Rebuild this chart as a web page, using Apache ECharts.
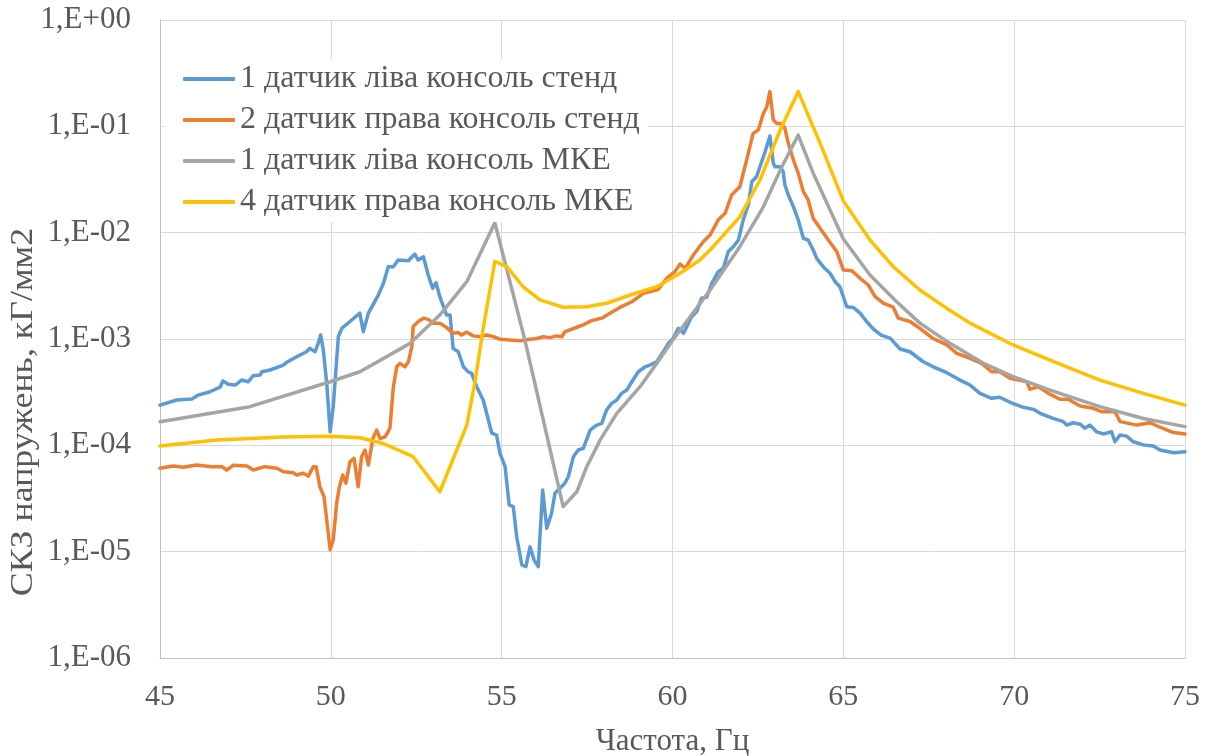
<!DOCTYPE html>
<html>
<head>
<meta charset="utf-8">
<title>СКЗ напружень</title>
<script src="https://cdn.jsdelivr.net/npm/echarts@6/dist/echarts.min.js"></script>
<style>
  html, body { margin: 0; padding: 0; background: #ffffff; }
  #chart { width: 1210px; height: 756px; }
</style>
</head>
<body>
<div id="chart"></div>
<script>
// Series names (legend)
const seriesNames = [
  '1 датчик ліва консоль стенд',
  '2 датчик права консоль стенд',
  '1 датчик ліва консоль МКЕ',
  '4 датчик права консоль МКЕ'
];

// Sensor 1, left cantilever, test bench: frequency (Hz) and RMS stress (kG/mm2)
const benchLeftFreq = [
  45.00,45.49,45.93,46.12,46.46,46.76,46.84,47.00,47.20,47.39,
  47.58,47.73,47.93,47.98,48.22,48.61,48.71,49.00,49.29,49.39,
  49.54,49.63,49.70,49.78,49.88,49.98,50.07,50.22,50.32,50.56,
  50.85,50.95,51.10,51.39,51.54,51.68,51.83,51.97,52.27,52.46,
  52.56,52.71,52.85,52.98,53.08,53.19,53.39,53.49,53.58,53.73,
  53.88,54.02,54.12,54.27,54.46,54.71,54.85,54.95,55.10,55.22,
  55.34,55.44,55.59,55.71,55.83,55.95,56.07,56.20,56.32,56.46,
  56.56,56.85,56.95,57.10,57.24,57.39,57.59,57.78,57.93,58.07,
  58.22,58.37,58.51,58.66,58.81,59.00,59.20,59.34,59.54,59.73,
  59.88,60.02,60.17,60.32,60.56,60.71,60.85,61.00,61.15,61.34,
  61.49,61.63,61.78,61.93,62.07,62.22,62.32,62.46,62.56,62.71,
  62.80,62.85,62.95,63.00,63.15,63.24,63.29,63.39,63.54,63.68,
  63.83,63.97,64.12,64.22,64.41,64.61,64.76,64.90,65.10,65.29,
  65.49,65.68,65.88,66.12,66.37,66.51,66.66,66.95,67.34,67.63,
  68.03,68.41,68.71,69.00,69.34,69.58,69.88,70.27,70.56,70.76,
  71.14,71.44,71.54,71.73,71.93,72.07,72.22,72.41,72.61,72.85,
  72.95,73.10,73.29,73.49,73.78,74.07,74.27,74.66,75.00
];
const benchLeftVals = [
  2.39e-4,2.67e-4,2.73e-4,2.97e-4,3.19e-4,3.52e-4,4.03e-4,3.75e-4,3.69e-4,4.11e-4,
  3.96e-4,4.52e-4,4.58e-4,4.92e-4,5.11e-4,5.69e-4,6.04e-4,6.81e-4,7.59e-4,8.17e-4,
  7.59e-4,9.1e-4,1.09e-3,7.87e-4,3.83e-4,1.34e-4,2.31e-4,1.05e-3,1.26e-3,1.46e-3,
  1.75e-3,1.17e-3,1.75e-3,2.59e-3,3.34e-3,4.79e-3,4.79e-3,5.53e-3,5.45e-3,6.30e-3,
  5.53e-3,5.94e-3,4.0e-3,3.0e-3,3.38e-3,2.5e-3,1.68e-3,1.68e-3,8.17e-4,7.59e-4,
  5.48e-4,4.92e-4,4.75e-4,3.56e-4,2.67e-4,1.30e-4,1.25e-4,8.41e-5,6.3e-5,2.75e-5,
  2.65e-5,1.38e-5,7.5e-6,7.23e-6,1.11e-5,8.34e-6,7.23e-6,3.8e-5,1.66e-5,2.3e-5,
  3.54e-5,4.4e-5,5.07e-5,7.82e-5,9.04e-5,9.38e-5,1.39e-4,1.55e-4,1.61e-4,2.15e-4,
  2.48e-4,2.67e-4,3.08e-4,3.31e-4,3.96e-4,4.92e-4,5.48e-4,5.69e-4,6.11e-4,7.59e-4,
  9.1e-4,1.01e-3,1.26e-3,1.13e-3,1.62e-3,1.81e-3,2.42e-3,2.47e-3,3.34e-3,4.3e-3,
  4.62e-3,6.62e-3,7.38e-3,8.53e-3,1.32e-2,1.82e-2,3.01e-2,3.36e-2,4.17e-2,5.77e-2,
  7.16e-2,8.11e-2,4.49e-2,4.17e-2,4.17e-2,3.74e-2,2.81e-2,2.26e-2,1.75e-2,1.32e-2,
  8.85e-3,8.53e-3,6.87e-3,5.74e-3,4.79e-3,4.15e-3,3.46e-3,3.1e-3,2.01e-3,1.98e-3,
  1.75e-3,1.46e-3,1.24e-3,1.08e-3,1.02e-3,9.1e-4,8.05e-4,7.59e-4,6.11e-4,5.48e-4,
  4.82e-4,4.11e-4,3.69e-4,3.08e-4,2.77e-4,2.83e-4,2.54e-4,2.28e-4,2.18e-4,2.0e-4,
  1.79e-4,1.67e-4,1.55e-4,1.63e-4,1.58e-4,1.45e-4,1.55e-4,1.34e-4,1.28e-4,1.34e-4,
  1.08e-4,1.25e-4,1.22e-4,1.08e-4,1.01e-4,9.86e-5,9.04e-5,8.53e-5,8.71e-5
];

// Sensor 2, right cantilever, test bench
const benchRightFreq = [
  45.00,45.39,45.68,46.07,46.51,46.81,46.95,47.15,47.54,47.73,
  48.07,48.42,48.61,48.90,49.00,49.19,49.34,49.49,49.57,49.68,
  49.80,49.88,49.98,50.07,50.17,50.25,50.35,50.44,50.56,50.68,
  50.80,50.90,51.00,51.10,51.23,51.34,51.44,51.59,51.73,51.83,
  51.93,52.02,52.17,52.27,52.37,52.41,52.56,52.71,52.85,53.00,
  53.19,53.39,53.58,53.73,53.83,53.98,54.17,54.37,54.56,54.76,
  54.95,55.24,55.54,55.83,56.03,56.22,56.41,56.61,56.76,56.85,
  57.00,57.20,57.39,57.63,57.93,58.17,58.46,58.81,59.15,59.58,
  59.83,60.07,60.22,60.37,60.61,60.90,61.10,61.34,61.54,61.73,
  61.97,62.17,62.36,62.51,62.66,62.76,62.85,62.95,63.05,63.20,
  63.29,63.39,63.54,63.68,63.83,63.97,64.12,64.32,64.56,64.81,
  65.00,65.25,65.49,65.73,65.93,66.17,66.46,66.61,66.95,67.24,
  67.63,68.03,68.32,68.71,69.05,69.34,69.58,69.88,70.37,70.46,
  70.71,71.00,71.34,71.58,71.93,72.32,72.56,72.95,73.10,73.59,
  73.98,74.27,74.66,75.00
];
const benchRightVals = [
  6.08e-5,6.4e-5,6.21e-5,6.53e-5,6.3e-5,6.3e-5,5.86e-5,6.49e-5,6.4e-5,5.86e-5,
  6.3e-5,6.08e-5,5.65e-5,5.52e-5,5.26e-5,5.46e-5,5.14e-5,6.3e-5,6.3e-5,4.08e-5,
  3.29e-5,1.99e-5,1.04e-5,1.29e-5,2.85e-5,4.08e-5,5.26e-5,4.4e-5,7.01e-5,7.55e-5,
  4.08e-5,7.82e-5,9.04e-5,6.53e-5,1.16e-4,1.39e-4,1.16e-4,1.2e-4,1.45e-4,3.56e-4,
  5.48e-4,5.9e-4,5.48e-4,6.11e-4,8.45e-4,1.31e-3,1.46e-3,1.57e-3,1.53e-3,1.41e-3,
  1.41e-3,1.28e-3,1.13e-3,1.15e-3,1.09e-3,1.16e-3,1.07e-3,1.05e-3,1.09e-3,1.05e-3,
  9.95e-4,9.77e-4,9.64e-4,9.93e-4,1.01e-3,1.05e-3,1.03e-3,1.07e-3,1.05e-3,1.17e-3,
  1.22e-3,1.29e-3,1.36e-3,1.49e-3,1.57e-3,1.75e-3,1.98e-3,2.24e-3,2.69e-3,2.92e-3,
  3.72e-3,4.3e-3,5.07e-3,4.62e-3,6.17e-3,8.22e-3,9.51e-3,1.32e-2,1.52e-2,2.26e-2,
  2.7e-2,4.82e-2,8.59e-2,9.24e-2,1.32e-1,1.53e-1,2.12e-1,1.15e-1,1.07e-1,1.05e-1,
  9.57e-2,6.92e-2,4.82e-2,3.61e-2,2.43e-2,2.03e-2,1.36e-2,1.1e-2,8.53e-3,6.62e-3,
  4.46e-3,4.39e-3,3.72e-3,3.22e-3,2.5e-3,2.17e-3,1.99e-3,1.57e-3,1.46e-3,1.26e-3,
  1.01e-3,8.79e-4,7.33e-4,6.58e-4,5.9e-4,4.92e-4,4.92e-4,4.27e-4,3.96e-4,3.37e-4,
  3.56e-4,3.08e-4,2.71e-4,2.71e-4,2.34e-4,2.23e-4,2.07e-4,2.07e-4,1.67e-4,1.55e-4,
  1.63e-4,1.48e-4,1.32e-4,1.28e-4
];

// Sensor 1, left cantilever, finite element model
const femLeftFreq = [
  45.00,47.63,49.98,50.85,52.32,53.19,53.98,54.80,55.68,56.80,
  57.20,57.49,57.88,58.37,59.05,59.54,60.01,61.10,61.97,62.66,
  63.20,63.68,64.12,65.00,65.78,66.56,67.24,68.12,69.10,69.97,
  71.05,72.51,73.78,75.00
];
const femLeftVals = [
  1.67e-4,2.31e-4,3.96e-4,4.92e-4,9.1e-4,1.68e-3,3.46e-3,1.24e-2,9.77e-4,2.65e-5,
  3.66e-5,6.3e-5,1.12e-4,2.0e-4,3.56e-4,5.9e-4,9.77e-4,2.89e-3,7.38e-3,1.75e-2,
  4.17e-2,8.28e-2,3.61e-2,8.71e-3,4.0e-3,2.24e-3,1.41e-3,9.1e-4,5.9e-4,4.42e-4,
  3.31e-4,2.31e-4,1.79e-4,1.50e-4
];

// Sensor 4, right cantilever, finite element model
const femRightFreq = [
  45.00,46.66,48.61,49.98,50.85,51.54,52.41,53.19,53.98,54.22,
  54.46,54.80,55.15,55.63,56.12,56.80,57.49,58.07,58.85,59.54,
  60.22,60.80,61.19,61.97,62.56,63.15,63.68,64.32,65.00,65.78,
  66.46,67.24,68.02,68.71,69.97,71.05,72.51,73.78,75.00
];
const femRightVals = [
  9.86e-5,1.12e-4,1.2e-4,1.22e-4,1.18e-4,1.04e-4,7.82e-5,3.66e-5,1.55e-4,3.96e-4,
  1.26e-3,5.36e-3,4.79e-3,3.1e-3,2.33e-3,1.99e-3,2.01e-3,2.17e-3,2.65e-3,3.1e-3,
  4.15e-3,5.53e-3,7.38e-3,1.41e-2,3.13e-2,9.23e-2,2.12e-1,6.92e-2,1.99e-2,8.53e-3,
  4.79e-3,2.89e-3,1.95e-3,1.41e-3,8.79e-4,6.34e-4,4.11e-4,3.08e-4,2.39e-4
];

// Axis ranges
const xMin = 45, xMax = 75, xStep = 5;
const yMin = 1e-6, yMax = 1;

const colors = ['#5B9BD5', '#ED7D31', '#A5A5A5', '#FFC000'];
const textColor = '#595959';
const fontFamily = '"Liberation Serif", "DejaVu Serif", serif';

function pairs(xs, ys) {
  return xs.map((x, i) => [x, ys[i]]);
}

// "1,E-03" style labels for decades
function decadeLabel(v) {
  const e = Math.round(Math.log10(v));
  return '1,E' + (e < 0 ? '-' : '+') + String(Math.abs(e)).padStart(2, '0');
}

const seriesData = [
  pairs(benchLeftFreq, benchLeftVals),
  pairs(benchRightFreq, benchRightVals),
  pairs(femLeftFreq, femLeftVals),
  pairs(femRightFreq, femRightVals)
];

const chart = echarts.init(document.getElementById('chart'), null, { renderer: 'canvas' });

chart.setOption({
  animation: false,
  backgroundColor: '#ffffff',
  color: colors,
  textStyle: { fontFamily: fontFamily, color: textColor },
  grid: { left: 160, right: 25, top: 20, bottom: 98, containLabel: false, outerBoundsMode: 'none' },
  legend: {
    orient: 'vertical',
    left: 165,
    top: 59,
    padding: [4, 8, 4, 18],
    icon: 'roundRect',
    itemWidth: 52,
    itemHeight: 4,
    itemGap: 9,
    backgroundColor: '#ffffff',
    textStyle: { fontFamily: fontFamily, fontSize: 32, color: textColor, lineHeight: 30 },
    data: seriesNames
  },
  xAxis: {
    type: 'value',
    min: xMin,
    max: xMax,
    interval: xStep,
    name: 'Частота, Гц',
    nameLocation: 'middle',
    nameGap: 68,
    nameTextStyle: { fontFamily: fontFamily, fontSize: 31, color: textColor },
    axisLine: { show: true, lineStyle: { color: '#bfbfbf', width: 1 } },
    axisTick: { show: false },
    axisLabel: { fontFamily: fontFamily, fontSize: 30, color: textColor, margin: 24 },
    splitLine: { show: true, lineStyle: { color: '#d9d9d9', width: 1 } }
  },
  yAxis: {
    type: 'log',
    logBase: 10,
    min: yMin,
    max: yMax,
    interval: 1,
    axisLine: { show: true, lineStyle: { color: '#bfbfbf', width: 1 } },
    axisTick: { show: false },
    axisLabel: { fontFamily: fontFamily, fontSize: 31, color: textColor, margin: 29, formatter: decadeLabel },
    splitLine: { show: true, lineStyle: { color: '#d9d9d9', width: 1 } }
  },
  graphic: [{
    type: 'text',
    x: 24,
    y: 412,
    rotation: Math.PI / 2,
    scaleX: 1.12,
    style: {
      text: 'СКЗ напружень, кГ/мм2',
      fill: textColor,
      font: '32px "Liberation Serif", serif',
      textAlign: 'center',
      textVerticalAlign: 'middle'
    }
  }],
  series: seriesNames.map((name, i) => ({
    name: name,
    type: 'line',
    data: seriesData[i],
    showSymbol: false,
    symbol: 'none',
    lineStyle: { width: 3.5, color: colors[i], cap: 'round', join: 'round' },
    itemStyle: { color: colors[i] }
  }))
});
</script>
</body>
</html>
